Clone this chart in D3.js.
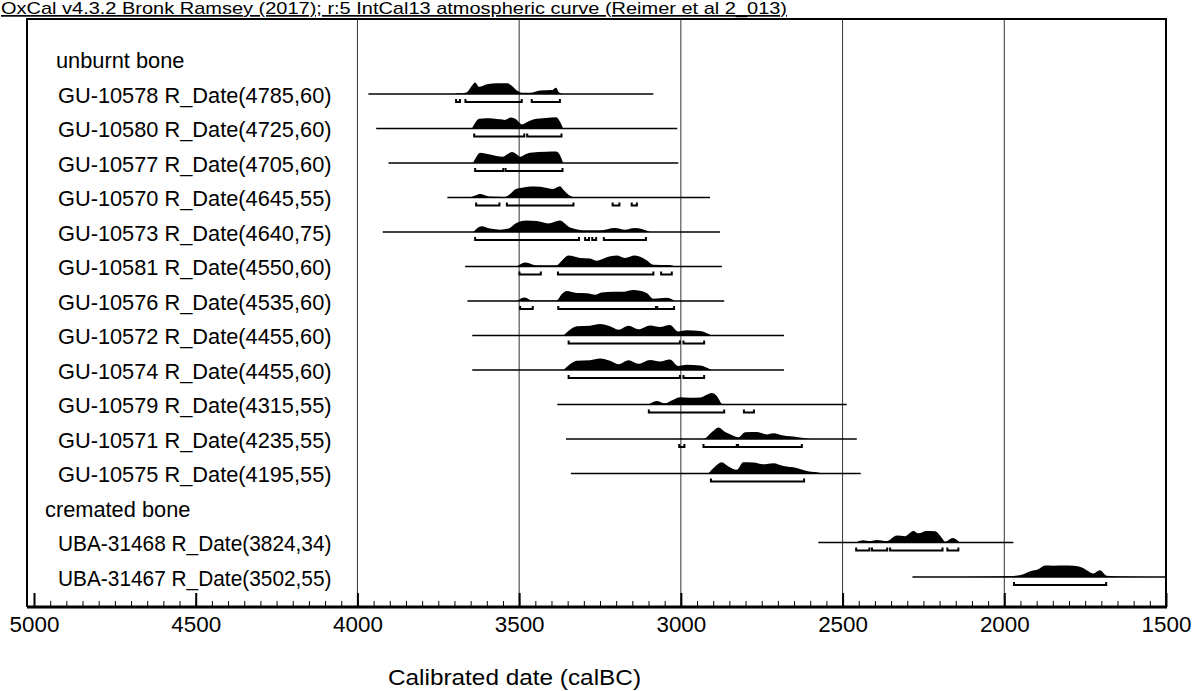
<!DOCTYPE html>
<html><head><meta charset="utf-8">
<script src="https://cdn.jsdelivr.net/npm/d3@7/dist/d3.min.js"></script>
<style>
html,body{margin:0;padding:0;background:#fff;}
svg{display:block;font-family:"Liberation Sans",Arial,sans-serif;}
</style></head>
<body>
<svg id="chart" width="1204" height="691"></svg>
<script>
// ---------- data ----------
const headerText = "OxCal v4.3.2 Bronk Ramsey (2017); r:5 IntCal13 atmospheric curve (Reimer et al 2_013)";
const axisTitle = "Calibrated date (calBC)";
const rowLabels = [
  "unburnt bone",
  "GU-10578 R_Date(4785,60)",
  "GU-10580 R_Date(4725,60)",
  "GU-10577 R_Date(4705,60)",
  "GU-10570 R_Date(4645,55)",
  "GU-10573 R_Date(4640,75)",
  "GU-10581 R_Date(4550,60)",
  "GU-10576 R_Date(4535,60)",
  "GU-10572 R_Date(4455,60)",
  "GU-10574 R_Date(4455,60)",
  "GU-10579 R_Date(4315,55)",
  "GU-10571 R_Date(4235,55)",
  "GU-10575 R_Date(4195,55)",
  "cremated bone",
  "UBA-31468 R_Date(3824,34)",
  "UBA-31467 R_Date(3502,55)"
];
const groupRows = ["unburnt bone", "cremated bone"];
const xTicksMajor = [5000, 4500, 4000, 3500, 3000, 2500, 2000, 1500];
const gridYears = [4000, 3500, 3000, 2500, 2000];

// extent of the thin baseline for each sample (calBC)
const spans = {
  "GU-10578 R_Date(4785,60)": [3966, 3085],
  "GU-10580 R_Date(4725,60)": [3942, 3011],
  "GU-10577 R_Date(4705,60)": [3904, 3008],
  "GU-10570 R_Date(4645,55)": [3722, 2910],
  "GU-10573 R_Date(4640,75)": [3922, 2879],
  "GU-10581 R_Date(4550,60)": [3667, 2873],
  "GU-10576 R_Date(4535,60)": [3660, 2866],
  "GU-10572 R_Date(4455,60)": [3645, 2681],
  "GU-10574 R_Date(4455,60)": [3645, 2681],
  "GU-10579 R_Date(4315,55)": [3382, 2487],
  "GU-10571 R_Date(4235,55)": [3355, 2456],
  "GU-10575 R_Date(4195,55)": [3340, 2444],
  "UBA-31468 R_Date(3824,34)": [2575, 1972],
  "UBA-31467 R_Date(3502,55)": [2284, 1500]
};

// probability profiles: [calBC, relative density]
const dGU10578 = [[3698,0],[3689,0.08],[3677,0.05],[3661,0.15],[3649,0.6],[3636,1.0],[3624,0.62],[3599,0.85],[3568,0.93],[3537,0.93],[3522,0.7],[3507,0.3],[3491,0.1],[3466,0.1],[3435,0.3],[3398,0.35],[3386,0.55],[3377,0.15],[3364,0]];
const dGU10580 = [[3646,0],[3636,0.5],[3624,0.85],[3602,0.9],[3581,0.88],[3559,0.8],[3544,0.75],[3525,0.95],[3510,0.8],[3491,0.35],[3472,0.6],[3454,0.8],[3417,0.92],[3386,0.97],[3374,0.6],[3364,0]];
const dGU10577 = [[3643,0],[3633,0.5],[3621,0.9],[3590,0.75],[3550,0.55],[3534,0.8],[3522,0.95],[3510,0.8],[3497,0.55],[3482,0.75],[3466,0.9],[3417,0.97],[3386,1.0],[3374,0.7],[3364,0]];
const dGU10570 = [[3652,0],[3633,0.2],[3621,0.3],[3606,0.2],[3590,0.08],[3544,0.05],[3528,0.3],[3513,0.7],[3491,0.85],[3466,0.95],[3435,0.93],[3411,0.8],[3395,0.75],[3374,0.97],[3364,0.7],[3352,0.35],[3333,0.05],[3281,0.02],[3210,0.05],[3188,0.04],[3148,0.05],[3111,0]];
const dGU10573 = [[3642,0],[3616,0.5],[3590,0.3],[3559,0.2],[3533,0.3],[3507,0.8],[3477,1.0],[3446,0.95],[3410,0.75],[3374,1.0],[3343,0.4],[3291,0.15],[3250,0.15],[3204,0.35],[3173,0.2],[3142,0.35],[3095,0]];
const dGU10581 = [[3507,0],[3480,0.35],[3446,0.1],[3384,0.1],[3368,0.5],[3348,0.95],[3312,0.75],[3281,0.7],[3260,0.5],[3229,0.8],[3198,0.95],[3173,0.75],[3142,0.95],[3106,0.55],[3085,0.15],[3034,0.12],[3018,0]];
const dGU10576 = [[3507,0],[3482,0.3],[3461,0.05],[3384,0.05],[3368,0.6],[3353,0.87],[3322,0.7],[3291,0.68],[3265,0.55],[3245,0.75],[3209,0.8],[3178,0.8],[3147,0.95],[3106,0.7],[3085,0.2],[3044,0.28],[3018,0]];
const dGU10572 = [[3363,0],[3343,0.5],[3322,0.8],[3281,0.85],[3250,1.0],[3219,0.8],[3193,0.5],[3162,0.85],[3131,0.55],[3095,0.88],[3065,0.75],[3034,0.92],[3008,0.35],[2982,0.45],[2941,0.4],[2905,0]];
const dGU10574 = [[3363,0],[3343,0.5],[3322,0.8],[3281,0.85],[3250,1.0],[3219,0.8],[3193,0.5],[3162,0.85],[3131,0.55],[3095,0.88],[3065,0.75],[3034,0.92],[3008,0.35],[2982,0.45],[2941,0.4],[2905,0]];
const dGU10579 = [[3290,0],[3260,0.03],[3230,0],[3105,0],[3075,0.3],[3049,0.1],[3028,0.35],[3002,0.62],[2972,0.58],[2941,0.6],[2920,0.85],[2904,1.0],[2889,0.75],[2870,0],[2810,0],[2791,0.04],[2770,0]];
const dGU10571 = [[3010,0],[2997,0.03],[2980,0],[2930,0],[2904,0.6],[2884,1.0],[2863,0.6],[2843,0.35],[2822,0.15],[2801,0.58],[2765,0.6],[2734,0.4],[2714,0.5],[2683,0.3],[2642,0.18],[2600,0]];
const dGU10575 = [[2915,0],[2894,0.6],[2874,0.97],[2853,0.6],[2827,0.32],[2807,0.97],[2776,0.95],[2745,0.8],[2714,0.9],[2683,0.65],[2642,0.48],[2611,0.22],[2580,0.1],[2564,0]];
const dUBA31468 = [[2461,0],[2436,0.2],[2415,0.12],[2394,0.22],[2363,0.12],[2332,0.6],[2307,0.55],[2281,1.0],[2266,0.8],[2240,1.0],[2214,0.97],[2193,0.4],[2183,0.08],[2159,0.4],[2137,0]];
const dUBA31467 = [[2120,0],[2075,0.02],[1972,0.08],[1941,0.25],[1920,0.5],[1895,0.68],[1874,1.0],[1848,0.98],[1817,1.0],[1786,0.98],[1760,0.83],[1740,0.5],[1725,0.3],[1704,0.58],[1683,0.1],[1642,0.04],[1559,0]];

// 95.4% ranges
const rGU10578 = [[3695,3683],[3666,3492],[3461,3374]];
const rGU10580 = [[3639,3484],[3475,3369]];
const rGU10577 = [[3636,3549],[3542,3366]];
const rGU10570 = [[3633,3561],[3538,3332],[3211,3190],[3152,3136]];
const rGU10573 = [[3636,3315],[3296,3284],[3274,3262],[3238,3108]];
const rGU10581 = [[3499,3433],[3380,3085],[3061,3028]];
const rGU10576 = [[3497,3458],[3379,3077],[3073,3021]];
const rGU10572 = [[3347,3003],[2992,2928]];
const rGU10574 = [[3347,3003],[2992,2928]];
const rGU10579 = [[3099,2866],[2805,2774]];
const rGU10571 = [[3005,2989],[2930,2827],[2823,2626]];
const rGU10575 = [[2907,2619]];
const rUBA31468 = [[2458,2417],[2409,2362],[2353,2191],[2176,2142]];
const rUBA31467 = [[1970,1685]];

const profiles = {
  "GU-10578 R_Date(4785,60)": dGU10578, "GU-10580 R_Date(4725,60)": dGU10580,
  "GU-10577 R_Date(4705,60)": dGU10577, "GU-10570 R_Date(4645,55)": dGU10570,
  "GU-10573 R_Date(4640,75)": dGU10573, "GU-10581 R_Date(4550,60)": dGU10581,
  "GU-10576 R_Date(4535,60)": dGU10576, "GU-10572 R_Date(4455,60)": dGU10572,
  "GU-10574 R_Date(4455,60)": dGU10574, "GU-10579 R_Date(4315,55)": dGU10579,
  "GU-10571 R_Date(4235,55)": dGU10571, "GU-10575 R_Date(4195,55)": dGU10575,
  "UBA-31468 R_Date(3824,34)": dUBA31468, "UBA-31467 R_Date(3502,55)": dUBA31467
};
const ranges = {
  "GU-10578 R_Date(4785,60)": rGU10578, "GU-10580 R_Date(4725,60)": rGU10580,
  "GU-10577 R_Date(4705,60)": rGU10577, "GU-10570 R_Date(4645,55)": rGU10570,
  "GU-10573 R_Date(4640,75)": rGU10573, "GU-10581 R_Date(4550,60)": rGU10581,
  "GU-10576 R_Date(4535,60)": rGU10576, "GU-10572 R_Date(4455,60)": rGU10572,
  "GU-10574 R_Date(4455,60)": rGU10574, "GU-10579 R_Date(4315,55)": rGU10579,
  "GU-10571 R_Date(4235,55)": rGU10571, "GU-10575 R_Date(4195,55)": rGU10575,
  "UBA-31468 R_Date(3824,34)": rUBA31468, "UBA-31467 R_Date(3502,55)": rUBA31467
};

// ---------- layout ----------
const svg = d3.select("#chart");
const frame = {left: 27, right: 1166, top: 19, bottom: 607};
const x = d3.scaleLinear().domain([5000, 1500]).range([34, 1166]);
const y = d3.scalePoint().domain(rowLabels).range([59.5, 577]);
const peakH = 11.5;

// header
svg.append("text").attr("x", 1).attr("y", 14)
  .attr("font-size", 17).attr("text-decoration", "underline")
  .attr("textLength", 786).attr("lengthAdjust", "spacingAndGlyphs")
  .attr("fill", "#000").text(headerText);

// gridlines
svg.append("g").selectAll("line").data(gridYears).join("line")
  .attr("x1", d => x(d)).attr("x2", d => x(d))
  .attr("y1", frame.top).attr("y2", frame.bottom)
  .attr("stroke", "#333").attr("stroke-width", 1);

// distributions
const samples = rowLabels.filter(l => !groupRows.includes(l));
const gS = svg.append("g");
samples.forEach(name => {
  const base = y(name);
  const sp = spans[name];
  gS.append("line")
    .attr("x1", x(sp[0])).attr("x2", x(sp[1]))
    .attr("y1", base).attr("y2", base)
    .attr("stroke", "#000").attr("stroke-width", 1.3);
  const area = d3.area()
    .x(d => x(d[0])).y0(base).y1(d => base - d[1] * peakH)
    .curve(d3.curveMonotoneX);
  gS.append("path").attr("d", area(profiles[name])).attr("fill", "#000");
  const ry = base + 8;
  gS.selectAll(null).data(ranges[name]).join("path")
    .attr("d", r => `M${x(r[0])},${ry - 3}V${ry}H${x(r[1])}V${ry - 3}`)
    .attr("fill", "none").attr("stroke", "#000").attr("stroke-width", 2);
});

// labels
const gL = svg.append("g");
gL.selectAll("text").data(rowLabels).join("text")
  .attr("x", d => d === "unburnt bone" ? 56 : d === "cremated bone" ? 45 : 58)
  .attr("y", d => y(d) + 1)
  .attr("dy", "0.35em")
  .attr("font-size", 21.8).attr("fill", "#000")
  .each(function(d) {
    if (!groupRows.includes(d)) {
      d3.select(this).attr("textLength", 273.5).attr("lengthAdjust", "spacingAndGlyphs");
    }
  })
  .text(d => d);

// axes
const minorTicks = d3.range(5000, 1499, -50);
svg.append("g").attr("transform", `translate(0,${frame.bottom})`)
  .call(d3.axisBottom(x).tickValues(minorTicks).tickSize(-6).tickFormat(""))
  .call(g => g.select(".domain").remove())
  .call(g => g.selectAll("line").attr("stroke", "#000").attr("stroke-width", 1));
const ax = svg.append("g").attr("transform", `translate(0,${frame.bottom})`)
  .call(d3.axisBottom(x).tickValues(xTicksMajor).tickSize(-14).tickPadding(6).tickFormat(d3.format("d")))
  .call(g => g.select(".domain").remove());
ax.selectAll("line").attr("stroke", "#000").attr("stroke-width", 2);
ax.selectAll("text").attr("font-size", 22.4).attr("fill", "#000")
  .attr("font-family", "'Liberation Sans',Arial,sans-serif").attr("dy", "0.85em");

// frame
svg.append("path")
  .attr("d", `M${frame.left},${frame.bottom}V${frame.top}H${frame.right}V${frame.bottom}`)
  .attr("fill", "none").attr("stroke", "#000").attr("stroke-width", 2);
svg.append("line").attr("x1", frame.left).attr("x2", frame.right + 1)
  .attr("y1", frame.bottom).attr("y2", frame.bottom)
  .attr("stroke", "#000").attr("stroke-width", 3);

// axis title
svg.append("text").attr("x", 388).attr("y", 685)
  .attr("font-size", 22).attr("fill", "#000")
  .attr("textLength", 253).attr("lengthAdjust", "spacingAndGlyphs")
  .text(axisTitle);
</script>
</body></html>
